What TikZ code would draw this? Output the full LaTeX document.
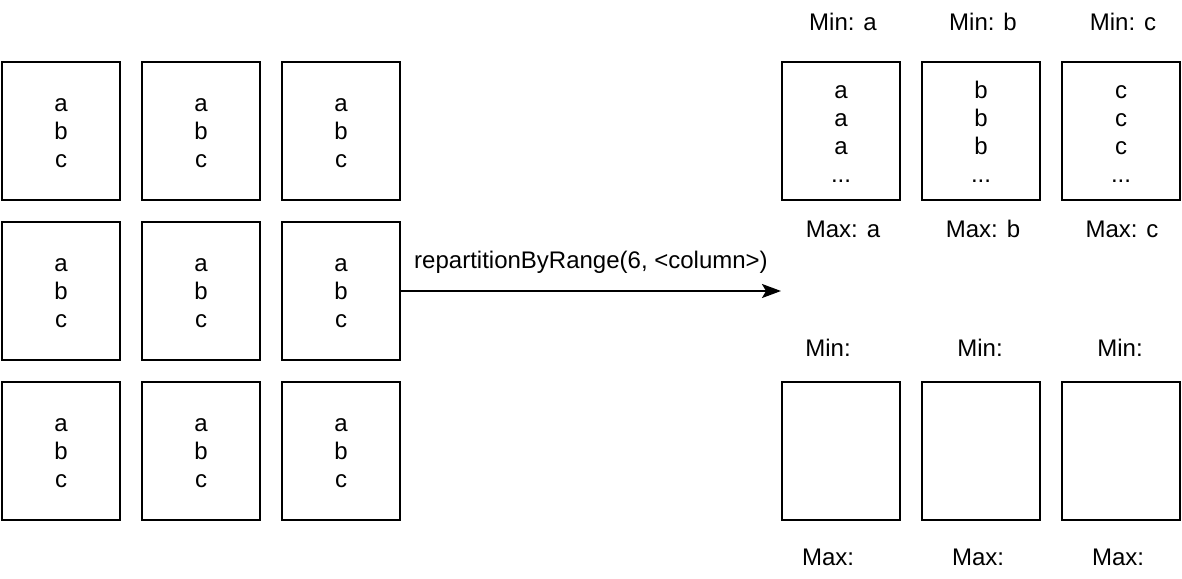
\documentclass[tikz,border=0pt]{standalone}
\usepackage{fontspec}
\setmainfont{Liberation Sans}
\usetikzlibrary{arrows.meta}

\tikzset{
  part/.style={draw, line width=1pt, minimum width=59pt, minimum height=69pt, inner sep=0pt, align=center},
  mixed/.style={part, text height=36pt, text depth=0pt},
  sorted/.style={part, text height=51pt, text depth=0pt},
  bound/.style={anchor=base, inner sep=0pt},
  shuffle/.style={line width=1pt, -{Stealth[length=9.5pt, width=7pt, inset=2pt]}}
}

\begin{document}
\begin{tikzpicture}[x=0.5pt, y=-0.5pt, font=\fontsize{12}{14}\selectfont]
\useasboundingbox (0,0) rectangle (1182,578);

% input partitions
\node [mixed] (in11) at (61,131) {a\\b\\c};
\node [mixed] (in12) at (201,131) {a\\b\\c};
\node [mixed] (in13) at (341,131) {a\\b\\c};
\node [mixed] (in21) at (61,291) {a\\b\\c};
\node [mixed] (in22) at (201,291) {a\\b\\c};
\node [mixed] (in23) at (341,291) {a\\b\\c};
\node [mixed] (in31) at (61,451) {a\\b\\c};
\node [mixed] (in32) at (201,451) {a\\b\\c};
\node [mixed] (in33) at (341,451) {a\\b\\c};

% output partitions
\node [sorted] (out1) at (841,131) {a\\a\\a\\...};
\node [sorted] (out2) at (981,131) {b\\b\\b\\...};
\node [sorted] (out3) at (1121,131) {c\\c\\c\\...};
\node [part] (out4) at (841,451) {};
\node [part] (out5) at (981,451) {};
\node [part] (out6) at (1121,451) {};

\node [bound] (min1) at (843,30) {Min: a};
\node [bound] (min2) at (983,30) {Min: b};
\node [bound] (min3) at (1123,30) {Min: c};
\node [bound] (max1) at (843,237) {Max: a};
\node [bound] (max2) at (983,237) {Max: b};
\node [bound] (max3) at (1122,237) {Max: c};

\node [bound] (min4) at (828,356) {Min:};
\node [bound] (min5) at (980,356) {Min:};
\node [bound] (min6) at (1120,356) {Min:};
\node [bound] (max4) at (828,565) {Max:};
\node [bound] (max5) at (978,565) {Max:};
\node [bound] (max6) at (1118,565) {Max:};

\coordinate (target) at (781,291);
\draw [shuffle] (in23.east) -- (target)
  node [midway, anchor=base, yshift=11.5pt, inner sep=0pt] (call) {repartitionByRange(6, <column>)};

\end{tikzpicture}
\end{document}
